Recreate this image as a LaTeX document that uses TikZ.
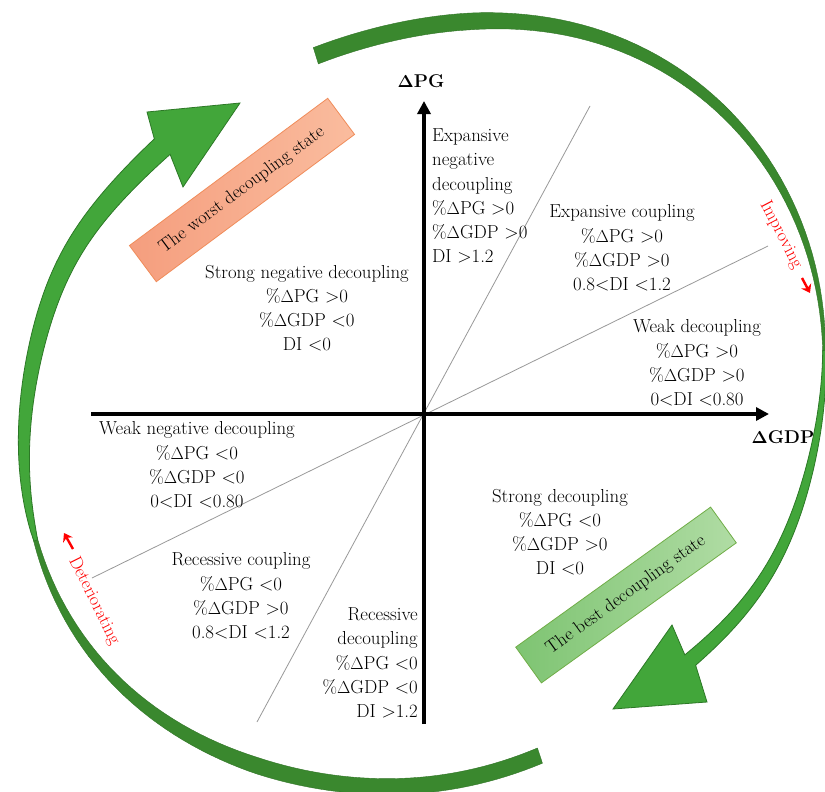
\documentclass[tikz,border=0pt]{standalone}
\usetikzlibrary{arrows.meta}
\definecolor{brightgreen}{RGB}{66,166,58}
\definecolor{darkgreen}{RGB}{58,136,46}
\definecolor{edgegreen}{RGB}{44,120,38}
\definecolor{salmonA}{RGB}{245,158,126}
\definecolor{salmonB}{RGB}{250,188,158}
\definecolor{salmonEdge}{RGB}{240,140,90}
\definecolor{mintA}{RGB}{126,196,114}
\definecolor{mintB}{RGB}{176,220,164}
\definecolor{mintEdge}{RGB}{112,173,71}
\definecolor{redlabel}{RGB}{255,0,0}
\begin{document}
\begin{tikzpicture}[x=1pt,y=-1pt,
  declare function={
    gbump(\a)=exp(-min((\a)*(\a),9));
    ringr(\t)=392+27*cos(2*(\t-40))-11*gbump((\t-95)/30)+10*gbump((\t+28)/18)-10*gbump((\t+112)/28)+7*gbump((\t+203)/15);
    wtop(\t)=min(17,1.5+0.187*\t);
    wright(\t)=2.5+12.5*((8-\t)/52)^0.8;
    wbot(\t)=min(16,1.5+14.5*(\t+172)/57);
    wleft(\t)=2+20*sqrt((-160-\t)/64);
  },
  lbl/.style={font=\fontsize{18.8}{24.2}\selectfont, align=center, inner sep=0pt},
  lbll/.style={lbl, align=left},
  lblr/.style={lbl, align=right},
  axislabel/.style={font=\fontsize{18.5}{22}\selectfont\bfseries, inner sep=0pt},
  axisline/.style={line width=4pt, -{Triangle[length=13pt,width=13pt]}},
  divider/.style={line width=0.8pt, draw=black!40},
  statebox/.style={minimum width=247pt, minimum height=45pt, inner sep=0pt, font=\fontsize{18.5}{20}\selectfont, line width=0.8pt},
  redtext/.style={text=redlabel, font=\fontsize{18}{20}\selectfont, inner sep=0pt},
  redarrow/.style={draw=redlabel, line width=2.4pt, -{Stealth[length=8pt,width=11pt]}},
  bandshape/.style={fill=darkgreen, draw=darkgreen!85!black, line width=0.4pt},
  arrowshape/.style={fill=brightgreen, draw=edgegreen, line width=0.8pt},
]
\useasboundingbox[fill=white] (0,0) rectangle (825,792);

% ---- circular arrows (polar shapes around (424,403)) ----
\coordinate (Lh1) at (147,112);
\coordinate (Lh2) at (240,103);
\coordinate (Lh3) at (183,187);
\coordinate (Rh1) at (707,702);
\coordinate (Rh2) at (613,709);
\coordinate (Rh3) at (672,625);

% bottom band (dark)
\path[bandshape]
  plot[domain=-71.8:-172, samples=70] ({424+(ringr(\x)+0.5*wbot(\x))*cos(\x)}, {403-(ringr(\x)+0.5*wbot(\x))*sin(\x)})
  -- plot[domain=-172:-71.8, samples=70] ({424+(ringr(\x)-0.5*wbot(\x))*cos(\x)}, {403-(ringr(\x)-0.5*wbot(\x))*sin(\x)})
  -- cycle;
% top band (dark)
\path[bandshape]
  plot[domain=107.3:-3, samples=70] ({424+(ringr(\x)+0.5*wtop(\x))*cos(\x)}, {403-(ringr(\x)+0.5*wtop(\x))*sin(\x)})
  -- plot[domain=-3:107.3, samples=70] ({424+(ringr(\x)-0.5*wtop(\x))*cos(\x)}, {403-(ringr(\x)-0.5*wtop(\x))*sin(\x)})
  -- cycle;
% left arrow (bright)
\path[arrowshape]
  plot[domain=-160.5:-224.4, samples=50] ({424+(ringr(\x)+0.5*wleft(\x))*cos(\x)}, {403-(ringr(\x)+0.5*wleft(\x))*sin(\x)})
  -- (Lh1) -- (Lh2) -- (Lh3)
  -- plot[domain=-224.4:-160.5, samples=50] ({424+(ringr(\x)-0.5*wleft(\x))*cos(\x)}, {403-(ringr(\x)-0.5*wleft(\x))*sin(\x)})
  -- cycle;
% right arrow (bright)
\path[arrowshape]
  plot[domain=7.5:-44, samples=45] ({424+(ringr(\x)+0.5*wright(\x))*cos(\x)}, {403-(ringr(\x)+0.5*wright(\x))*sin(\x)})
  -- (Rh1) -- (Rh2) -- (Rh3)
  -- plot[domain=-44:7.5, samples=45] ({424+(ringr(\x)-0.5*wright(\x))*cos(\x)}, {403-(ringr(\x)-0.5*wright(\x))*sin(\x)})
  -- cycle;

% ---- state boxes ----
\node[statebox, rotate=36.6, left color=salmonA, right color=salmonB, draw=salmonEdge] (worst) at (242,190) {The worst decoupling state};
\node[statebox, rotate=35.7, minimum width=240pt, minimum height=44pt, left color=mintA, right color=mintB, draw=mintEdge] (best) at (626,595) {The best decoupling state};

% ---- divider lines ----
\coordinate (sA) at (257,722);
\coordinate (sB) at (590,106);
\coordinate (fA) at (92,578);
\coordinate (fB) at (768,246);
\draw[divider] (sA) -- (sB);
\draw[divider] (fA) -- (fB);

% ---- axes ----
\coordinate (xL) at (91,414);
\coordinate (xR) at (769,414);
\coordinate (yB) at (424,724);
\coordinate (yT) at (424,101);
\draw[axisline] (xL) -- (xR);
\draw[axisline] (yB) -- (yT);
\node[axislabel] (ylab) at (421,81) {$\mathbf{\Delta}$PG};
\node[axislabel] (xlab) at (783,437) {$\mathbf{\Delta}$GDP};

% ---- region labels ----
\node[lbll, anchor=west] (enc) at (432,196) {Expansive\\negative\\decoupling\\\%$\Delta$PG >0\\\%$\Delta$GDP >0\\DI >1.2};
\node[lbl] (ec) at (622,248) {Expansive coupling\\\%$\Delta$PG >0\\\%$\Delta$GDP >0\\0.8<DI <1.2};
\node[lbl] (wd) at (697,363) {Weak decoupling\\\%$\Delta$PG >0\\\%$\Delta$GDP >0\\0<DI <0.80};
\node[lbl] (snd) at (307,308) {Strong negative decoupling\\\%$\Delta$PG >0\\\%$\Delta$GDP <0\\DI <0};
\node[lbl] (wnd) at (197,465) {Weak negative decoupling\\\%$\Delta$PG <0\\\%$\Delta$GDP <0\\0<DI <0.80};
\node[lbl] (rc) at (241,596) {Recessive coupling\\\%$\Delta$PG <0\\\%$\Delta$GDP >0\\0.8<DI <1.2};
\node[lblr, anchor=east] (rd) at (418,663) {Recessive\\decoupling\\\%$\Delta$PG <0\\\%$\Delta$GDP <0\\DI >1.2};
\node[lbl] (sd) at (560,532) {Strong decoupling\\\%$\Delta$PG <0\\\%$\Delta$GDP >0\\DI <0};

% ---- direction labels ----
\node[redtext, rotate=-62.5] (imp) at (781,235) {Improving};
\coordinate (impA) at (802,278);
\coordinate (impB) at (810,293);
\draw[redarrow] (impA) -- (impB);
\node[redtext, rotate=-63.5] (det) at (94,601) {Deteriorating};
\coordinate (detA) at (73,549);
\coordinate (detB) at (64,533);
\draw[redarrow] (detA) -- (detB);
\end{tikzpicture}
\end{document}
